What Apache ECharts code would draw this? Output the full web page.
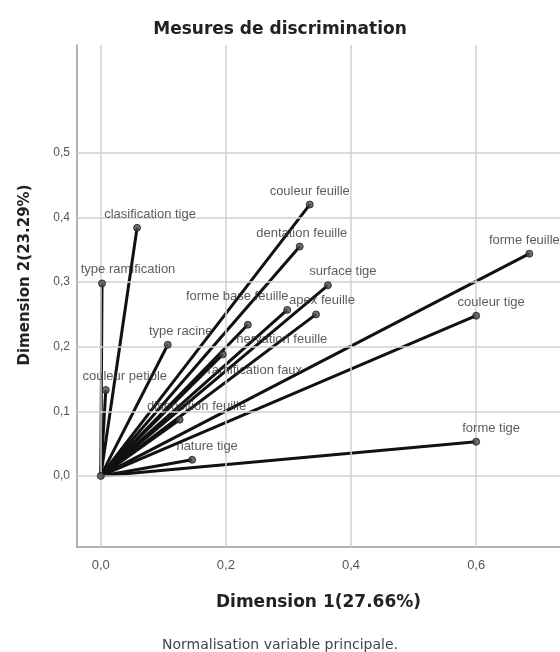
<!DOCTYPE html>
<html>
<head>
<meta charset="utf-8">
<script src="https://cdn.jsdelivr.net/npm/echarts@6/dist/echarts.min.js"></script>
<style>html,body{margin:0;padding:0;background:#fff;}#c{width:560px;height:652px;}</style>
</head>
<body>
<div id="c"></div>
<script>
const variables = ['couleur feuille','clasification tige','dentation feuille','forme feuille','type ramification','surface tige','forme base feuille','apex feuille','couleur tige','nervation feuille','type racine','ramification faux','couleur petiole','disposition feuille','nature tige','forme tige'];
const dim1 = [0.334,0.058,0.318,0.685,0.002,0.363,0.298,0.344,0.600,0.235,0.107,0.195,0.008,0.126,0.146,0.600];
const dim2 = [0.420,0.384,0.355,0.344,0.298,0.295,0.257,0.250,0.248,0.234,0.203,0.188,0.133,0.087,0.025,0.053];
const xTicks = [0, 0.2, 0.4, 0.6];
const yTicks = [0, 0.1, 0.2, 0.3, 0.4, 0.5];

// label placement styling (not data)
const labelOffsets = {
  'couleur feuille':[0,0],'clasification tige':[13,0],'dentation feuille':[2,0],'forme feuille':[-5,0],
  'type ramification':[26,0],'surface tige':[15,0],'forme base feuille':[-50,0],'apex feuille':[6,0],
  'couleur tige':[15,0],'nervation feuille':[34,28],'type racine':[13,0],'ramification faux':[32,29],
  'couleur petiole':[19,0],'disposition feuille':[17,0],'nature tige':[15,0],'forme tige':[15,0]
};

const fmt = v => v.toFixed(1).replace('.', ',');
const FONT = 'Liberation Sans, Arial, sans-serif';
const WIDE = 'DejaVu Sans, sans-serif';

const series = [];
series.push({
  type:'line', data:[], silent:true, z:1,
  markLine:{
    silent:true, symbol:['none','none'], animation:false,
    label:{show:false},
    lineStyle:{color:'#d0d0d0', type:'solid', width:1.5},
    data: xTicks.map(v=>({xAxis:v})).concat(yTicks.map(v=>({yAxis:v})))
  }
});
variables.forEach((name,i)=>{
  series.push({
    type:'line', name:name, z:3,
    data:[[0,0],[dim1[i],dim2[i]]],
    symbol:'none',
    lineStyle:{color:'#111', width:3},
    silent:true, animation:false
  });
});
series.push({
  type:'scatter', z:5, animation:false,
  data: variables.map((n,i)=>({name:n, value:[dim1[i],dim2[i]],
    label:{offset:labelOffsets[n]||[0,0]}})).concat([{name:'', value:[0,0], label:{show:false}}]),
  symbolSize:7,
  itemStyle:{color:'#4a4a4a', borderColor:'#1a1a1a', borderWidth:1},
  label:{show:true, position:'top', distance:3, formatter:p=>p.name,
    fontFamily:FONT, fontSize:13, color:'#333'}
});

const chart = echarts.init(document.getElementById('c'), null, {renderer:'canvas'});
chart.setOption({
  backgroundColor:'#fff',
  animation:false,
  title:[
    {text:'Mesures de discrimination', left:'center', top:16,
     textStyle:{fontFamily:WIDE, fontSize:17, fontWeight:'bold', color:'#222'}},
    {text:'Normalisation variable principale.', left:'center', top:633,
     textStyle:{fontFamily:WIDE, fontSize:14, fontWeight:'normal', color:'#444'}}
  ],
  grid:{left:77, right:0, top:45, bottom:105},
  xAxis:{
    type:'value', min:-0.038, max:0.734,
    name:'Dimension 1(27.66%)', nameLocation:'middle', nameGap:47,
    nameTextStyle:{fontFamily:WIDE, fontSize:17, fontWeight:'bold', color:'#222'},
    axisLine:{show:true, onZero:false, lineStyle:{color:'#999', width:1.5}},
    axisTick:{show:false},
    splitLine:{show:false},
    axisLabel:{customValues:xTicks, formatter:fmt, margin:12, fontFamily:FONT, fontSize:13, color:'#555'}
  },
  yAxis:{
    type:'value', min:-0.11, max:0.667,
    name:'Dimension 2(23.29%)', nameLocation:'middle', nameGap:44, nameRotate:90,
    nameTextStyle:{fontFamily:WIDE, fontSize:15, fontWeight:'bold', color:'#222', padding:[0,0,0,42]},
    axisLine:{show:true, onZero:false, lineStyle:{color:'#999', width:1.5}},
    axisTick:{show:false},
    splitLine:{show:false},
    axisLabel:{customValues:yTicks, formatter:fmt, margin:7, fontFamily:FONT, fontSize:12, color:'#555'}
  },
  series:series
});
</script>
</body>
</html>
